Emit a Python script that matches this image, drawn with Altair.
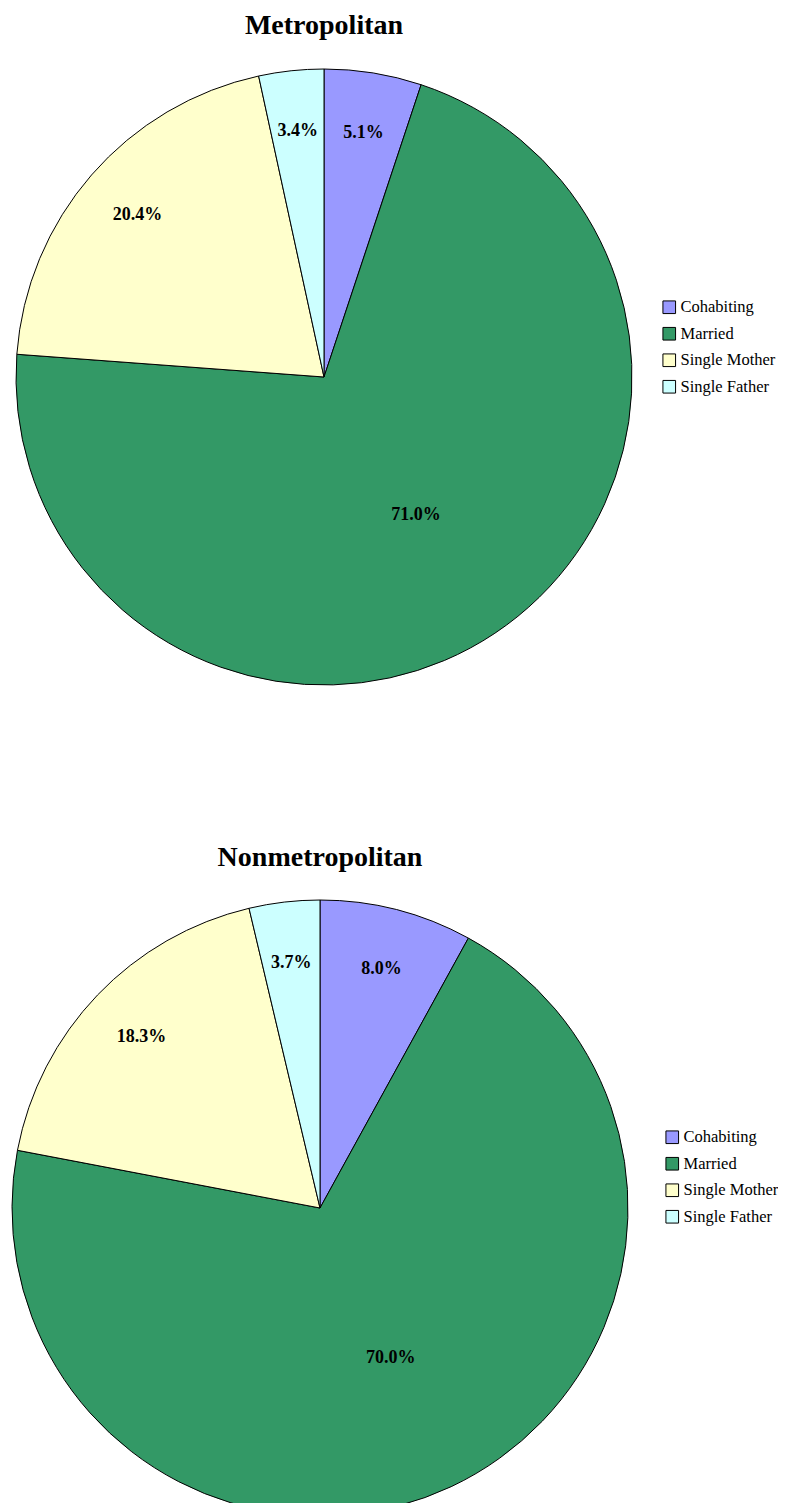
import altair as alt
import pandas as pd

categories = ["Cohabiting", "Married", "Single Mother", "Single Father"]
metro_values = [5.1, 71.0, 20.4, 3.4]
nonmetro_values = [8.0, 70.0, 18.3, 3.7]
colors = ["#9999FF", "#339966", "#FFFFCC", "#CCFFFF"]
titles = ["Metropolitan", "Nonmetropolitan"]

FONT = "Liberation Serif"
R = 308


def make_pie(values, title, cx, cy, title_y, legend_x, legend_y):
    df = pd.DataFrame({
        "category": categories,
        "value": values,
        "order": list(range(len(categories))),
        "label": [f"{v:.1f}%" for v in values],
    })
    base = alt.Chart(df).encode(
        theta=alt.Theta("value:Q", stack=True),
        order=alt.Order("order:Q"),
        x=alt.value(cx),
        y=alt.value(cy),
    )
    arcs = base.mark_arc(outerRadius=R, stroke="black", strokeWidth=1).encode(
        color=alt.Color(
            "category:N",
            scale=alt.Scale(domain=categories, range=colors),
            sort=categories,
            legend=alt.Legend(
                title=None, orient="none", legendX=legend_x, legendY=legend_y,
                symbolType="square", symbolSize=160, symbolStrokeColor="black",
                symbolStrokeWidth=1, symbolOpacity=1, labelFont=FONT, labelFontSize=16.5,
                labelColor="black", rowPadding=8.5, labelOffset=3, padding=0,
            ),
        )
    )
    small_labels = base.mark_text(
        radius=247, font=FONT, fontSize=18, fontWeight="bold", color="black",
        baseline="middle", align="center",
    ).encode(text=alt.condition("datum.value < 50", alt.Text("label:N"), alt.value("")))
    big_labels = base.mark_text(
        radius=166, font=FONT, fontSize=18, fontWeight="bold", color="black",
        baseline="middle", align="center",
    ).encode(text=alt.condition("datum.value >= 50", alt.Text("label:N"), alt.value("")))
    ttl = alt.Chart(pd.DataFrame({"t": [title]})).mark_text(
        font=FONT, fontSize=28, fontWeight="bold", color="black",
        baseline="alphabetic", align="center",
    ).encode(text="t:N", x=alt.value(cx), y=alt.value(title_y))
    return alt.layer(arcs, small_labels, big_labels, ttl)


top = make_pie(metro_values, titles[0], 316, 369, 26, 653, 291)
bottom = make_pie(nonmetro_values, titles[1], 312, 1200, 858, 656, 1121)

chart = alt.layer(top, bottom).resolve_scale(
    color="independent", theta="independent"
).properties(
    width=770, height=1495, padding=0,
    autosize=alt.AutoSizeParams(type="none"),
).configure_view(stroke=None).configure_legend(labelFont=FONT)

chart.save("out.html", embed_options={"renderer": "svg", "actions": False})
